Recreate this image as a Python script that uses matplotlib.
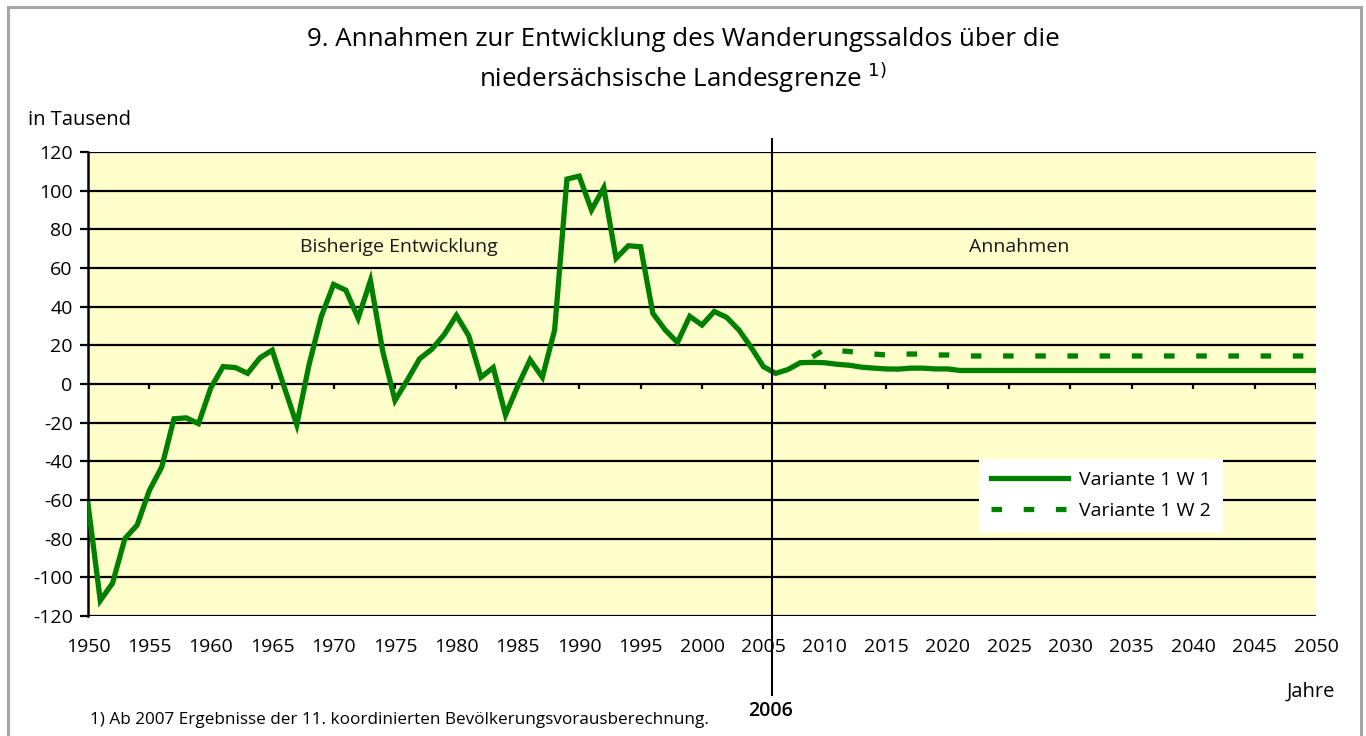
import matplotlib
matplotlib.use("Agg")
import matplotlib.pyplot as plt
from matplotlib.patches import Rectangle

plt.rcParams['font.family'] = ['Open Sans', 'DejaVu Sans']

# ---------------- data ----------------
years_w1 = list(range(1950, 2051))
values_w1 = [
    -62, -112, -103, -80, -73, -55, -43, -18, -17.5, -20.5,      # 1950-1959
    -2, 9, 8.5, 5.5, 13.5, 17.5, -2, -21, 10, 35,                # 1960-1969
    51.5, 48.5, 34, 53.5, 17, -8.5, 2, 13, 18, 25.5,             # 1970-1979
    35.5, 25, 3.5, 8.5, -16, -1, 12.5, 3.5, 28, 106,             # 1980-1989
    107.5, 90, 101.5, 65, 71.5, 71, 36.5, 28, 21.5, 35,          # 1990-1999
    30.5, 37.5, 34.5, 28, 19, 9, 5.5, 7.5, 11, 11.2,             # 2000-2009
    11, 10.2, 9.7, 8.7, 8.2, 7.8, 7.7, 8.2, 8.2, 7.8,            # 2010-2019
    7.8, 7, 7, 7, 7, 7, 7, 7, 7, 7,                              # 2020-2029
    7, 7, 7, 7, 7, 7, 7, 7, 7, 7,                                # 2030-2039
    7, 7, 7, 7, 7, 7, 7, 7, 7, 7,                                # 2040-2049
    7,                                                           # 2050
]
years_w2 = list(range(2009, 2051))
values_w2 = [
    14, 18, 17.3, 16.8, 16, 15.5, 15, 15.5, 15.5, 15.5,          # 2009-2018
    15, 15, 14.5, 14.5, 14.5, 14.5, 14.5, 14.5, 14.5, 14.5,      # 2019-2028
    14.5, 14.5, 14.5, 14.5, 14.5, 14.5, 14.5, 14.5, 14.5, 14.5,  # 2029-2038
    14.5, 14.5, 14.5, 14.5, 14.5, 14.5, 14.5, 14.5, 14.5, 14.5,  # 2039-2048
    14.5, 14.5,                                                  # 2049-2050
]
series_names = ["Variante 1 W 1", "Variante 1 W 2"]
x_ticks = list(range(1950, 2051, 5))
y_ticks = list(range(-120, 121, 20))
split_year = 2005.7
title_line1 = "9. Annahmen zur Entwicklung des Wanderungssaldos über die"
title_line2 = "niedersächsische Landesgrenze $^{1)}$"
footnote = "1) Ab 2007 Ergebnisse der 11. koordinierten Bevölkerungsvorausberechnung."

# ---------------- figure ----------------
W, H = 1366, 736
fig = plt.figure(figsize=(W / 100, H / 100), dpi=100)
fig.patch.set_facecolor('white')

# outer gray frame
fig.add_artist(Rectangle((8 / W, -0.01), (1361 - 8) / W, (H - 7) / H + 0.01,
                         transform=fig.transFigure, fill=False,
                         edgecolor='#a6a6a6', linewidth=2.2))

left, right, top, bottom = 88, 1316, 152, 616
ax = fig.add_axes([left / W, 1 - bottom / H, (right - left) / W, (bottom - top) / H])
ax.set_facecolor('#FFFFCC')
ax.set_xlim(1950, 2050)
ax.set_ylim(-120, 120)

green = '#008000'
for yv in y_ticks:
    ax.axhline(yv, color='black', lw=1.6, zorder=1)

ax.plot(years_w1, values_w1, color=green, lw=3.8, solid_joinstyle='miter',
        zorder=3, label=series_names[0])
ax.plot(years_w2, values_w2, color=green, lw=3.8, linestyle=(0, (2.0, 4.1)),
        zorder=3, label=series_names[1])

# tick marks on the zero line
ax.vlines(x_ticks, -2.6, 0, color='black', lw=1.6, zorder=2)

ax.set_xticks(x_ticks)
ax.set_xticklabels([str(t) for t in x_ticks])
ax.set_yticks(y_ticks)
ax.set_yticklabels([str(t) for t in y_ticks])
ax.tick_params(axis='x', length=0, pad=16, labelsize=14, colors='black')
ax.tick_params(axis='y', length=6, width=1.6, pad=5, labelsize=14, colors='black', direction='out')

for s in ['top', 'right', 'bottom']:
    ax.spines[s].set_visible(False)
ax.spines['left'].set_linewidth(1.8)
ax.spines['left'].set_color('black')

# vertical separator at 2006
ax.plot([split_year, split_year], [1.028, -0.170], color='black', lw=1.5,
        transform=ax.get_xaxis_transform(), clip_on=False, zorder=4)

ax.text(1975.3, 71, "Bisherige Entwicklung", ha='center', va='center', fontsize=14, color='#1a1a1a')
ax.text(2025.8, 71, "Annahmen", ha='center', va='center', fontsize=14, color='#1a1a1a')

# legend
leg = ax.legend(loc='upper left', bbox_to_anchor=(979 / W, 1 - 459 / H),
                bbox_transform=fig.transFigure, frameon=True, fancybox=False,
                facecolor='white', edgecolor='white', framealpha=1,
                fontsize=14, handlelength=4.0, handletextpad=0.55,
                borderpad=0.6, labelspacing=0.7, borderaxespad=0)
leg.get_frame().set_linewidth(0)
leg.set_zorder(5)

# texts
fig.text(683 / W, 1 - 40 / H, title_line1, ha='center', va='center', fontsize=18.6, color='black')
fig.text(683 / W, 1 - 78 / H, title_line2, ha='center', va='center', fontsize=18.6, color='black')
fig.text(28 / W, 1 - 120 / H, "in Tausend", ha='left', va='center', fontsize=14.5)
fig.text(1335 / W, 1 - 692 / H, "Jahre", ha='right', va='center', fontsize=14.5)
fig.text(770 / W, 1 - 711 / H, "2006", ha='center', va='center', fontsize=14, fontweight='semibold')
fig.text(90 / W, 1 - 720 / H, footnote, ha='left', va='center', fontsize=12.3)

fig.savefig('out.png', dpi=100, facecolor='white')
